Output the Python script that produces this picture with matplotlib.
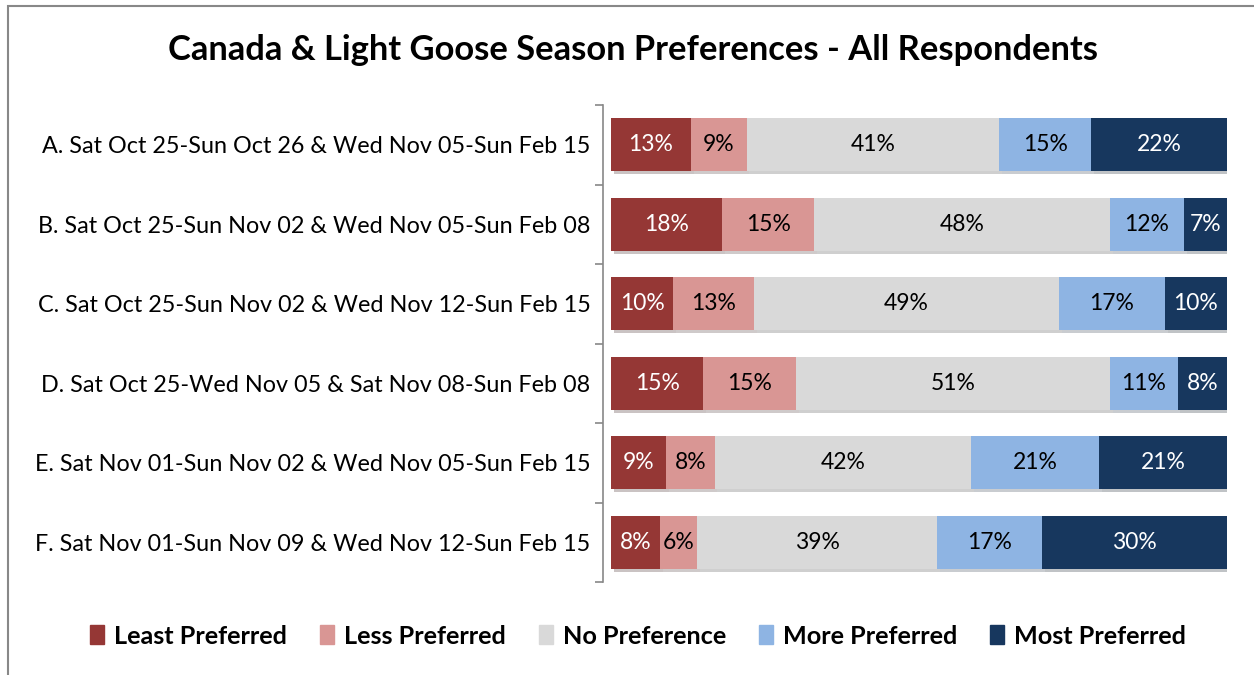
import matplotlib
matplotlib.use("Agg")
import matplotlib.pyplot as plt
import matplotlib.patheffects as pe
from matplotlib.patches import Rectangle
import numpy as np

plt.rcParams['font.family'] = ['Lato', 'DejaVu Sans']

categories = [
    "A. Sat Oct 25-Sun Oct 26 & Wed Nov 05-Sun Feb 15",
    "B. Sat Oct 25-Sun Nov 02 & Wed Nov 05-Sun Feb 08",
    "C. Sat Oct 25-Sun Nov 02 & Wed Nov 12-Sun Feb 15",
    "D. Sat Oct 25-Wed Nov 05 & Sat Nov 08-Sun Feb 08",
    "E. Sat Nov 01-Sun Nov 02 & Wed Nov 05-Sun Feb 15",
    "F. Sat Nov 01-Sun Nov 09 & Wed Nov 12-Sun Feb 15",
]
series_names = ["Least Preferred", "Less Preferred", "No Preference", "More Preferred", "Most Preferred"]
least = [13, 18, 10, 15, 9, 8]
less = [9, 15, 13, 15, 8, 6]
nopref = [41, 48, 49, 51, 42, 39]
more = [15, 12, 17, 11, 21, 17]
most = [22, 7, 10, 8, 21, 30]
colors = ["#953735", "#D99694", "#D9D9D9", "#8EB4E3", "#17375E"]
text_colors = ["white", "black", "black", "black", "white"]

data = np.array([least, less, nopref, more, most], dtype=float)
totals = data.sum(axis=0)
frac = data / totals

fig = plt.figure(figsize=(12.54, 6.75), dpi=100)
W, H = 1254, 675
# outer frame
fig.patches.append(Rectangle((8 / W, -0.2), 1.2, (H - 6) / H + 0.2, transform=fig.transFigure,
                             fill=False, edgecolor="#888888", linewidth=1.5))

ax = fig.add_axes([603 / W, 1 - 582 / H, (1227 - 603) / W, (582 - 105) / H])
n = len(categories)
y = np.arange(n)
left = np.zeros(n)
for i in range(5):
    ax.barh(y, frac[i], left=left, height=0.67, color=colors[i],
            label=series_names[i], zorder=3,
            path_effects=[pe.SimplePatchShadow(offset=(2, -2), alpha=0.25), pe.Normal()])
    for j in range(n):
        ax.text(left[j] + frac[i][j] / 2, y[j], f"{int(data[i][j])}%", ha="center", va="center",
                color=text_colors[i], fontsize=16.5, zorder=4)
    left += frac[i]

gap = 8 / (1227 - 611)
ax.set_xlim(-gap, 1.0)
ax.set_ylim(n - 0.5, -0.5)
ax.set_yticks(y)
ax.set_yticklabels(categories, fontsize=16.8)
ax.set_yticks(np.arange(n + 1) - 0.5, minor=True)
ax.tick_params(axis='y', which='major', length=0, pad=9)
ax.tick_params(axis='y', which='minor', length=6, color="#888888", width=1.2)
ax.set_xticks([])
for s in ["top", "right", "bottom"]:
    ax.spines[s].set_visible(False)
ax.spines["left"].set_color("#888888")
ax.spines["left"].set_linewidth(1.2)

fig.text(633 / W, 1 - 50 / H, "Canada & Light Goose Season Preferences - All Respondents",
         ha="center", va="center", fontsize=24.8, fontweight="bold")

handles = [Rectangle((0, 0), 1, 1, color=c) for c in colors]
fig.legend(handles, series_names, loc="center", bbox_to_anchor=(638 / W, 1 - 636 / H), ncol=5,
           frameon=False, prop={"size": 18.2, "weight": "bold"}, handlelength=0.55,
           handleheight=0.75, handletextpad=0.4, columnspacing=1.3)

fig.savefig("out.png", dpi=100)
